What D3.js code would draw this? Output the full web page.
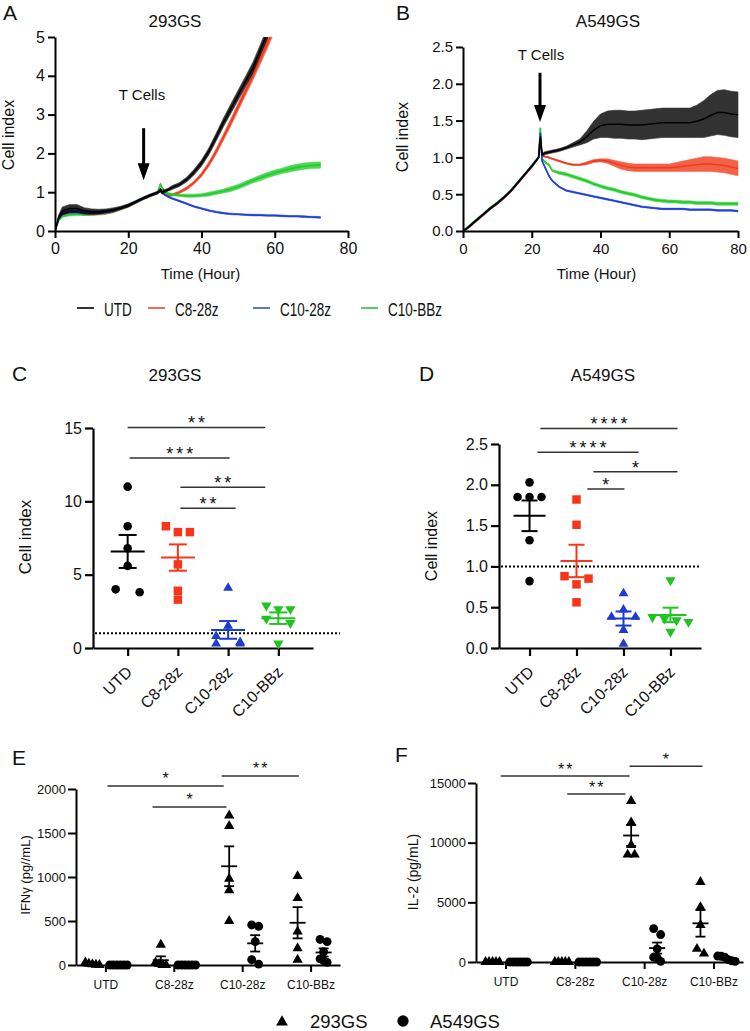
<!DOCTYPE html>
<html><head><meta charset="utf-8">
<script src="https://cdn.jsdelivr.net/npm/d3@7"></script>
<style>
body{margin:0;background:#fff}
svg text{font-family:"Liberation Sans",Arial,Helvetica,sans-serif;fill:#111}
</style></head><body>
<svg id="chart" width="750" height="1031" xmlns="http://www.w3.org/2000/svg"></svg>
<script>
// ---------------- DATA ----------------
const categories = ["UTD", "C8-28z", "C10-28z", "C10-BBz"];
const cellLines = ["293GS", "A549GS"];

// Panel A (293GS real-time cell index)
const timeA = [0,1,2,4,6,8,10,12,14,16,18,20,22,24,26,28,28.8,29.2,30,31,32,34,36,38,40,42,44,46,48,50,52,54,56,58,60,62,64,66,68,70,72.5];
const utdA   = [0,0.35,0.52,0.58,0.58,0.52,0.5,0.5,0.52,0.55,0.6,0.66,0.75,0.84,0.92,0.99,1.05,1.0,1.03,1.07,1.12,1.2,1.33,1.52,1.75,2.05,2.42,2.8,3.15,3.5,3.85,4.2,4.65,5.1,null,null,null,null,null,null,null];
const c828A  = [0,0.3,0.42,0.47,0.47,0.44,0.43,0.44,0.46,0.5,0.57,0.64,0.73,0.83,0.91,0.98,1.08,1.0,0.95,0.92,0.93,1.0,1.1,1.25,1.45,1.72,2.05,2.42,2.8,3.2,3.6,4.0,4.42,4.85,5.3,null,null,null,null,null,null];
const c1028A = [0,0.32,0.45,0.5,0.5,0.47,0.46,0.47,0.49,0.53,0.59,0.66,0.75,0.84,0.92,0.99,1.05,1.0,0.93,0.88,0.84,0.77,0.7,0.63,0.58,0.53,0.49,0.46,0.44,0.43,0.42,0.41,0.41,0.4,0.4,0.39,0.38,0.38,0.37,0.36,0.35];
const c10bbA = [0,0.28,0.38,0.42,0.43,0.43,0.44,0.46,0.48,0.52,0.58,0.65,0.74,0.84,0.92,0.99,1.2,1.12,1.0,0.96,0.94,0.92,0.91,0.91,0.92,0.95,0.99,1.03,1.08,1.14,1.22,1.3,1.37,1.44,1.5,1.55,1.6,1.64,1.67,1.69,1.7];
const utdAErr   = [0,0.06,0.1,0.1,0.1,0.08,0.07,0.06,0.05,0.05,0.04,0.04,0.03,0.03,0.03,0.03,0.05,0.05,0.04,0.04,0.05,0.05,0.06,0.07,0.08,0.09,0.1,0.11,0.12,0.13,0.13,0.14,0.14,0.15,null,null,null,null,null,null,null];
const c828AErr  = [0,0.03,0.04,0.04,0.04,0.04,0.03,0.03,0.03,0.03,0.03,0.03,0.03,0.03,0.03,0.03,0.03,0.03,0.03,0.03,0.03,0.03,0.04,0.04,0.05,0.06,0.07,0.08,0.09,0.1,0.11,0.12,0.13,0.14,0.15,null,null,null,null,null,null];
const c1028AErr = [0,0.03,0.04,0.04,0.04,0.04,0.03,0.03,0.03,0.03,0.03,0.03,0.03,0.03,0.03,0.03,0.03,0.03,0.02,0.02,0.02,0.02,0.02,0.02,0.02,0.02,0.02,0.02,0.02,0.02,0.02,0.02,0.02,0.02,0.02,0.02,0.02,0.02,0.02,0.02,0.02];
const c10bbAErr = [0,0.03,0.03,0.03,0.03,0.03,0.03,0.03,0.03,0.03,0.03,0.03,0.03,0.03,0.03,0.03,0.03,0.03,0.03,0.03,0.03,0.03,0.04,0.04,0.04,0.05,0.05,0.05,0.06,0.06,0.06,0.06,0.07,0.07,0.07,0.07,0.08,0.08,0.08,0.08,0.08];

// Panel B (A549GS real-time cell index)
const timeB = [0,1,2,4,6,8,10,12,14,16,18,20,21,22,22.5,23,24,25,26,28,30,32,34,36,38,40,42,44,46,48,50,52,54,56,58,60,62,64,66,68,70,72,74,76,78,80];
const utdB   = [0,0.03,0.07,0.15,0.23,0.31,0.38,0.46,0.55,0.66,0.77,0.88,0.94,1.0,1.27,1.04,1.06,1.07,1.08,
                1.1,1.13,1.17,1.21,1.28,1.37,1.43,1.45,1.45,1.45,1.44,1.44,1.44,1.45,1.46,1.47,1.47,1.47,1.47,1.47,1.49,1.52,1.57,1.61,1.61,1.59,1.58];
const c828B  = [0,0.03,0.06,0.14,0.22,0.3,0.37,0.45,0.54,0.65,0.76,0.87,0.93,1.0,1.3,1.02,1.01,1.0,0.98,
                0.95,0.92,0.9,0.9,0.92,0.95,0.96,0.95,0.92,0.89,0.87,0.86,0.86,0.86,0.86,0.86,0.86,0.87,0.88,0.89,0.9,0.91,0.91,0.9,0.89,0.87,0.85];
const c1028B = [0,0.03,0.07,0.15,0.23,0.31,0.38,0.46,0.55,0.66,0.77,0.88,0.94,1.0,1.33,0.95,0.85,0.75,0.68,
                0.6,0.55,0.53,0.51,0.49,0.47,0.45,0.43,0.41,0.39,0.37,0.35,0.33,0.32,0.31,0.3,0.3,0.3,0.3,0.29,0.29,0.29,0.29,0.28,0.28,0.28,0.27];
const c10bbB = [0,0.04,0.08,0.16,0.24,0.32,0.39,0.47,0.56,0.67,0.78,0.89,0.95,1.0,1.4,0.98,0.93,0.9,0.82,
                0.79,0.77,0.74,0.71,0.68,0.64,0.61,0.58,0.56,0.53,0.51,0.49,0.46,0.44,0.42,0.41,0.4,0.4,0.39,0.39,0.38,0.38,0.38,0.37,0.37,0.37,0.37];
const utdBErr   = [0,0.01,0.01,0.01,0.01,0.01,0.01,0.01,0.01,0.01,0.01,0.01,0.01,0.01,0.02,0.02,0.02,0.02,0.02,
                   0.02,0.02,0.03,0.04,0.08,0.12,0.16,0.18,0.19,0.19,0.19,0.19,0.2,0.2,0.2,0.2,0.2,0.2,0.2,0.2,0.22,0.25,0.28,0.3,0.31,0.31,0.31];
const c828BErr  = [0,0.01,0.01,0.01,0.01,0.01,0.01,0.01,0.01,0.01,0.01,0.01,0.01,0.01,0.01,0.01,0.01,0.01,0.01,
                   0.01,0.01,0.01,0.01,0.02,0.02,0.02,0.03,0.04,0.05,0.05,0.05,0.05,0.05,0.05,0.05,0.05,0.06,0.07,0.08,0.09,0.1,0.1,0.1,0.1,0.1,0.1];
const c1028BErr = [0,0.01,0.01,0.01,0.01,0.01,0.01,0.01,0.01,0.01,0.01,0.01,0.01,0.01,0.01,0.01,0.01,0.01,0.01,
                   0.01,0.01,0.01,0.01,0.01,0.01,0.01,0.01,0.01,0.01,0.01,0.01,0.01,0.01,0.01,0.01,0.01,0.01,0.01,0.01,0.01,0.01,0.01,0.01,0.01,0.01,0.01];
const c10bbBErr = [0,0.01,0.01,0.01,0.01,0.01,0.01,0.01,0.01,0.01,0.01,0.01,0.01,0.01,0.01,0.01,0.01,0.01,0.01,
                   0.02,0.02,0.02,0.02,0.02,0.02,0.02,0.02,0.02,0.02,0.02,0.02,0.02,0.02,0.02,0.02,0.02,0.02,0.02,0.02,0.02,0.02,0.02,0.02,0.02,0.02,0.02];

// T cell addition times
const tcellA = [24.2, 2.65, 1.31];   // [hour, arrow top value, arrow tip value]
const tcellB = [22.4, 2.15, 1.48];

// Panel C: 293GS cell index (endpoint), per category
const cIndex293 = [
  [11.0, 8.3, 6.8, 5.6, 4.0, 3.8],
  [8.3, 7.9, 7.9, 5.7, 3.9, 3.3],
  [4.1, 1.5, 0.8, 0.4, 0.3, 0.3],
  [2.9, 2.65, 2.65, 2.0, 1.7, 0.3]
];
// Panel D: A549GS cell index
const cIndexA549 = [
  [2.03, 1.85, 1.85, 1.85, 1.32, 0.82],
  [1.82, 1.51, 0.88, 0.85, 0.78, 0.56],
  [0.67, 0.47, 0.38, 0.38, 0.22, 0.05],
  [0.83, 0.38, 0.36, 0.34, 0.32, 0.2]
];
// Panel E: IFNγ (pg/mL)
const ifng293 = [
  [30, 15, 8, 3, 0],
  [230, 30, 10, 0, 0],
  [1700, 1580, 980, 850, 500],
  [1010, 760, 380, 190, 60]
];
const ifngA549 = [
  [0, 0, 0, 0, 0, 0],
  [0, 0, 0, 0, 0, 0],
  [455, 440, 265, 60, 10],
  [290, 265, 150, 70, 50, 30]
];
// Panel F: IL-2 (pg/mL)
const il2_293 = [
  [0, 0, 0, 0, 0],
  [0, 0, 0, 0, 0],
  [13500, 11700, 9800, 9000, 9000],
  [6700, 4600, 3100, 1100, 700]
];
const il2_A549 = [
  [0, 0, 0, 0, 0, 0],
  [0, 0, 0, 0, 0, 0],
  [2800, 2300, 1100, 400, 350, 50],
  [500, 480, 400, 200, 100, 50]
];
// significance: [from category index, to category index, value, label]
const sigC = [[0, 2.74, 15.04, "**"], [0.04, 2.03, 12.95, "***"], [1.05, 2.74, 10.96, "**"], [1.05, 2.15, 9.52, "**"]];
const sigD = [[0.23, 3.15, 2.69, "****"], [0.17, 2.32, 2.40, "****"], [1.36, 3.15, 2.16, "*"], [1.23, 2.02, 1.95, "*"]];
const sigE = [[0.03, 1.73, 2034, "*"], [0.69, 1.77, 1795, "*"], [1.70, 2.83, 2148, "**"]];
const sigF = [[-0.07, 1.79, 15580, "**"], [0.89, 1.73, 14070, "**"], [1.79, 2.84, 16410, "*"]];

// ---------------- STYLE ----------------
const FONT = '"Liberation Sans", Arial, Helvetica, sans-serif';
const lineColors = {"UTD": "#000000", "C8-28z": "#f23a1c", "C10-28z": "#2040dc", "C10-BBz": "#22cc2a"};
const legendColors = {"UTD": "#333333", "C8-28z": "#e9705e", "C10-28z": "#5a73df", "C10-BBz": "#5ccb5c"};
const dotColors = {"UTD": "#000000", "C8-28z": "#f5361a", "C10-28z": "#1c3bd0", "C10-BBz": "#20c420"};

const svg = d3.select("#chart");

function styleAxis(g, fs, sw) {
  g.attr("font-family", FONT).attr("font-size", fs);
  g.select(".domain").attr("stroke", "#000").attr("stroke-width", sw);
  g.selectAll(".tick line").attr("stroke", "#000").attr("stroke-width", sw);
  g.selectAll(".tick text").attr("fill", "#111");
}
function txt(x, y, s, fs, opts = {}) {
  const t = svg.append("text").attr("x", x).attr("y", y).attr("font-size", fs)
    .attr("text-anchor", opts.anchor || "middle").text(s);
  if (opts.rotate) t.attr("transform", `rotate(${opts.rotate},${x},${y})`);
  return t;
}
function arrow(x, y1, y2) {
  svg.append("line").attr("x1", x).attr("x2", x).attr("y1", y1).attr("y2", y2 - 14)
    .attr("stroke", "#000").attr("stroke-width", 3);
  svg.append("path").attr("d", d3.line()([[x - 6, y2 - 17], [x + 6, y2 - 17], [x, y2]]) + "Z").attr("fill", "#000");
}

// ---------------- TIME PANELS ----------------
function timePanel(cfg) {
  const x = d3.scaleLinear().domain([0, 80]).range([cfg.x0, cfg.x1]);
  const y = d3.scaleLinear().domain([0, cfg.ymax]).range([cfg.yb, cfg.yt]);
  const cid = "clip" + cfg.id;
  svg.append("clipPath").attr("id", cid).append("rect")
    .attr("x", cfg.x0).attr("y", cfg.yt).attr("width", cfg.x1 - cfg.x0 + 2).attr("height", cfg.yb - cfg.yt);
  const g = svg.append("g").attr("clip-path", `url(#${cid})`);
  cfg.order.forEach(name => {
    const vals = cfg.series[name], errs = cfg.errors[name];
    const pts = cfg.time.map((t, i) => ({t, v: vals[i], e: errs[i] || 0})).filter(d => d.v != null);
    const area = d3.area().x(d => x(d.t)).y0(d => y(d.v - d.e)).y1(d => y(d.v + d.e));
    g.append("path").attr("d", area(pts)).attr("fill", lineColors[name]).attr("opacity", 0.8)
      .attr("stroke", lineColors[name]).attr("stroke-width", 0.6);
    g.append("path").attr("d", d3.line().x(d => x(d.t)).y(d => y(d.v))(pts))
      .attr("fill", "none").attr("stroke", lineColors[name]).attr("stroke-width", 1.6);
  });
  svg.append("g").attr("transform", `translate(0,${cfg.yb})`)
    .call(d3.axisBottom(x).tickValues([0, 20, 40, 60, 80]).tickSize(7).tickPadding(5).tickSizeOuter(0))
    .call(g => styleAxis(g, cfg.fs, 2));
  svg.append("g").attr("transform", `translate(${cfg.x0},0)`)
    .call(d3.axisLeft(y).tickValues(cfg.yticks).tickFormat(d3.format(cfg.yfmt)).tickSize(7).tickPadding(3).tickSizeOuter(0))
    .call(g => styleAxis(g, cfg.fs, 2));
  arrow(x(cfg.tcell[0]), y(cfg.tcell[1]), y(cfg.tcell[2]));
  txt(cfg.tcellX, cfg.tcellY, "T Cells", 15);
  txt((cfg.x0 + cfg.x1) / 2 + cfg.xlabDx, 279, "Time (Hour)", 15);
  txt(cfg.ylabX, cfg.ylabY, "Cell index", 16, {rotate: -90});
  txt(cfg.titleX, 27, cfg.title, 17);
  txt(cfg.letterX, 20, cfg.letter, 21, {anchor: "start"});
}

timePanel({
  id: "A", x0: 55, x1: 348, yb: 231, yt: 37, ymax: 5, yticks: [0, 1, 2, 3, 4, 5], yfmt: "d", fs: 16,
  time: timeA, order: ["C8-28z", "C10-BBz", "C10-28z", "UTD"],
  series: {"UTD": utdA, "C8-28z": c828A, "C10-28z": c1028A, "C10-BBz": c10bbA},
  errors: {"UTD": utdAErr, "C8-28z": c828AErr, "C10-28z": c1028AErr, "C10-BBz": c10bbAErr},
  tcell: tcellA, tcellX: 142, tcellY: 100, xlabDx: -1, ylabX: 14, ylabY: 135,
  title: "293GS", titleX: 175, letter: "A", letterX: 3
});
timePanel({
  id: "B", x0: 463, x1: 738, yb: 231, yt: 47, ymax: 2.5, yticks: [0, 0.5, 1, 1.5, 2, 2.5], yfmt: ".1f", fs: 15,
  time: timeB, order: ["C8-28z", "C10-BBz", "C10-28z", "UTD"],
  series: {"UTD": utdB, "C8-28z": c828B, "C10-28z": c1028B, "C10-BBz": c10bbB},
  errors: {"UTD": utdBErr, "C8-28z": c828BErr, "C10-28z": c1028BErr, "C10-BBz": c10bbBErr},
  tcell: tcellB, tcellX: 541, tcellY: 60, xlabDx: -4, ylabX: 408, ylabY: 137,
  title: "A549GS", titleX: 608, letter: "B", letterX: 396
});

// legend for time panels
const legX = [77, 148, 253, 361];
categories.forEach((c, i) => {
  svg.append("line").attr("x1", legX[i]).attr("x2", legX[i] + 17).attr("y1", 308).attr("y2", 308)
    .attr("stroke", legendColors[c]).attr("stroke-width", 2);
  svg.append("text").attr("transform", `translate(${legX[i] + 27},316) scale(0.75,1)`)
    .attr("font-size", 18).text(c);
});

// ---------------- SCATTER HELPERS ----------------
// group points with (nearly) equal pixel heights into rows, centred on the column
function swarm(vals, y, s, dmin) {
  const offs = new Array(vals.length).fill(0);
  const idx = vals.map((v, i) => i).sort((a, b) => vals[b] - vals[a]);
  let row = [];
  const flush = () => {
    const n = row.length;
    row.forEach((k, j) => {
      offs[k] = n === 2 ? (j === 0 ? -s : s) : (j - (n - 1) / 2) * s;
    });
    row = [];
  };
  idx.forEach(k => {
    if (row.length && Math.abs(y(vals[k]) - y(vals[row[0]])) >= dmin) flush();
    row.push(k);
  });
  flush();
  return offs;
}
function meanSem(cx, vals, y, hw, cw, color, sw) {
  const m = d3.mean(vals), se = vals.length > 1 ? d3.deviation(vals) / Math.sqrt(vals.length) : 0;
  const g = svg.append("g").attr("stroke", color).attr("stroke-width", sw).attr("fill", "none");
  g.append("line").attr("x1", cx - hw).attr("x2", cx + hw).attr("y1", y(m)).attr("y2", y(m));
  g.append("line").attr("x1", cx).attr("x2", cx).attr("y1", y(m - se)).attr("y2", y(m + se));
  g.append("line").attr("x1", cx - cw).attr("x2", cx + cw).attr("y1", y(m + se)).attr("y2", y(m + se));
  g.append("line").attr("x1", cx - cw).attr("x2", cx + cw).attr("y1", y(m - se)).attr("y2", y(m - se));
}
function sigBars(list, x, y, fs, dy, ls) {
  const xi = d3.scaleLinear().domain([0, 3]).range([x(categories[0]), x(categories[3])]);
  list.forEach(([a, b, v, lab]) => {
    svg.append("line").attr("x1", xi(a)).attr("x2", xi(b)).attr("y1", y(v)).attr("y2", y(v))
      .attr("stroke", "#333").attr("stroke-width", 1.5);
    svg.append("text").attr("x", (xi(a) + xi(b)) / 2 + ls / 2).attr("y", y(v) + dy)
      .attr("text-anchor", "middle").attr("font-size", fs).attr("letter-spacing", ls).attr("fill", "#333").text(lab);
  });
}

// ---------------- PANELS C & D ----------------
const shapeC = {"UTD": [d3.symbolCircle, 58, 0], "C8-28z": [d3.symbolSquare, 72, 0],
                "C10-28z": [d3.symbolTriangle, 42, 0], "C10-BBz": [d3.symbolTriangle, 46, 180]};
function indexPanel(cfg) {
  const x = d3.scalePoint().domain(categories).range([cfg.x0, cfg.x1]).padding(cfg.pad);
  const y = d3.scaleLinear().domain([0, cfg.ymax]).range([cfg.yb, cfg.yt]);
  svg.append("line").attr("x1", cfg.x0 + 2).attr("x2", cfg.dotEnd).attr("y1", y(1)).attr("y2", y(1))
    .attr("stroke", "#000").attr("stroke-width", 2).attr("stroke-dasharray", "2,2");
  const xa = svg.append("g").attr("transform", `translate(0,${cfg.yb})`)
    .call(d3.axisBottom(x).tickSize(8).tickSizeOuter(0))
    .call(g => styleAxis(g, 16, 2.2));
  xa.selectAll(".tick text").attr("x", 0).attr("y", 0).attr("dy", "0.35em")
    .attr("text-anchor", "end").attr("transform", "translate(1,21) rotate(-45)");
  svg.append("g").attr("transform", `translate(${cfg.x0},0)`)
    .call(d3.axisLeft(y).tickValues(cfg.yticks).tickFormat(d3.format(cfg.yfmt)).tickSize(8).tickPadding(3).tickSizeOuter(0))
    .call(g => styleAxis(g, 16, 2.2));
  categories.forEach((c, ci) => {
    const vals = cfg.values[ci];
    const offs = swarm(vals, y, 12, 7);
    const [sym, size, rot] = shapeC[c];
    vals.forEach((v, i) => {
      svg.append("path").attr("d", d3.symbol(sym, size)())
        .attr("transform", `translate(${x(c) + offs[i]},${y(v)}) rotate(${rot})`)
        .attr("fill", dotColors[c]);
    });
    meanSem(x(c), vals, y, cfg.hw, cfg.cw, dotColors[c], 2);
  });
  sigBars(cfg.sig, x, y, 18, 2, 3);
  txt(cfg.ylabX, cfg.ylabY, "Cell index", cfg.ylabFs, {rotate: -90});
  txt(cfg.titleX, 381, cfg.title, 17);
  txt(cfg.letterX, 381, cfg.letter, 21, {anchor: "start"});
}
indexPanel({x0: 93, x1: 313, pad: 0.69, yb: 648, yt: 428, ymax: 15, yticks: [0, 5, 10, 15], yfmt: "d",
  values: cIndex293, sig: sigC, dotEnd: 340, hw: 17, cw: 9,
  ylabX: 31, ylabY: 537, ylabFs: 17, title: "293GS", titleX: 175, letter: "C", letterX: 12});
indexPanel({x0: 499, x1: 701, pad: 0.65, yb: 648, yt: 444, ymax: 2.5, yticks: [0, 0.5, 1, 1.5, 2, 2.5], yfmt: ".1f",
  values: cIndexA549, sig: sigD, dotEnd: 700, hw: 16, cw: 8,
  ylabX: 437, ylabY: 546, ylabFs: 16, title: "A549GS", titleX: 603, letter: "D", letterX: 419});

// ---------------- PANELS E & F ----------------
function cytoPanel(cfg) {
  const x = d3.scalePoint().domain(categories).range([cfg.x0, cfg.x1]).padding(cfg.pad);
  const sub = d3.scalePoint().domain(cellLines).range([-13, 13]);
  const y = d3.scaleLinear().domain([0, cfg.ymax]).range([cfg.yb, cfg.yt]);
  svg.append("g").attr("transform", `translate(0,${cfg.yb})`)
    .call(d3.axisBottom(x).tickSize(7).tickPadding(8).tickSizeOuter(0))
    .call(g => styleAxis(g, 12, 2));
  svg.append("g").attr("transform", `translate(${cfg.x0},0)`)
    .call(d3.axisLeft(y).tickValues(cfg.yticks).tickFormat(d3.format("d")).tickSize(8).tickPadding(2).tickSizeOuter(0))
    .call(g => styleAxis(g, 13, 2));
  categories.forEach((c, ci) => {
    [[cfg.v293[ci], "293GS", d3.symbolTriangle, 46], [cfg.vA549[ci], "A549GS", d3.symbolCircle, 62]].forEach(([vals, cl, sym, size]) => {
      const cx = x(c) + sub(cl);
      const offs = swarm(vals, y, 3.5, 6);
      vals.forEach((v, i) => {
        svg.append("path").attr("d", d3.symbol(sym, size)())
          .attr("transform", `translate(${cx + offs[i]},${y(v)})`).attr("fill", "#000");
      });
      meanSem(cx, vals, y, 8, 5, "#000", 1.8);
    });
  });
  sigBars(cfg.sig, x, y, 16, cfg.sigDy, 2);
  txt(cfg.ylabX, cfg.ylabY, cfg.ylab, cfg.ylabFs, {rotate: -90});
  txt(cfg.letterX, cfg.letterY, cfg.letter, 21, {anchor: "start"});
}
cytoPanel({x0: 76, x1: 340, pad: 0.43, yb: 965, yt: 789, ymax: 2000, yticks: [0, 500, 1000, 1500, 2000],
  v293: ifng293, vA549: ifngA549, sig: sigE, sigDy: -2,
  ylab: "IFNγ (pg//mL)", ylabX: 30, ylabY: 875, ylabFs: 13, letter: "E", letterX: 12, letterY: 765});
cytoPanel({x0: 476, x1: 743, pad: 0.426, yb: 962, yt: 783, ymax: 15000, yticks: [0, 5000, 10000, 15000],
  v293: il2_293, vA549: il2_A549, sig: sigF, sigDy: -1,
  ylab: "IL-2 (pg/mL)", ylabX: 418, ylabY: 872, ylabFs: 14, letter: "F", letterX: 395, letterY: 762});

// bottom legend
svg.append("path").attr("d", d3.symbol(d3.symbolTriangle, 60)()).attr("transform", "translate(282,1022)").attr("fill", "#000");
svg.append("text").attr("x", 310).attr("y", 1028).attr("font-size", 18.5).text(cellLines[0]);
svg.append("path").attr("d", d3.symbol(d3.symbolCircle, 100)()).attr("transform", "translate(403,1021)").attr("fill", "#000");
svg.append("text").attr("x", 430).attr("y", 1028).attr("font-size", 18.5).text(cellLines[1]);
</script></body></html>
